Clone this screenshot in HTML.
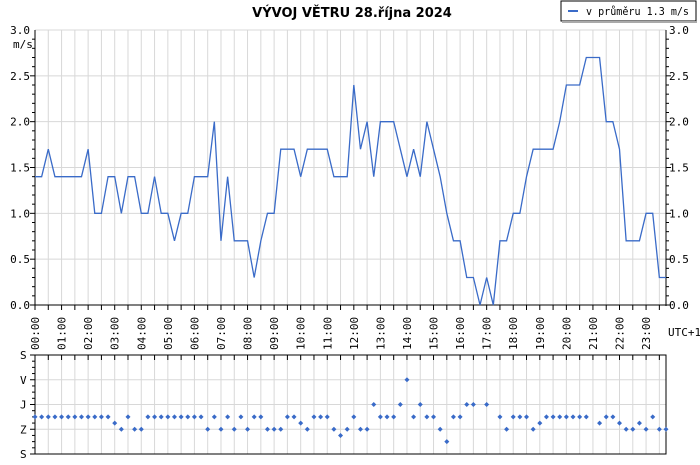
<!DOCTYPE html>
<html><head><meta charset="utf-8">
<style>
body{margin:0;background:#fff;width:700px;height:460px;overflow:hidden;font-family:"Liberation Mono",monospace;}
svg text{font-family:"DejaVu Sans Mono","Liberation Mono",monospace;font-size:11px;fill:#000;}
</style></head><body>
<svg id="c" width="700" height="460">
<text x="352" y="17" text-anchor="middle" style="font-family:'DejaVu Sans','Liberation Sans',sans-serif;font-weight:bold;font-size:13px">VÝVOJ VĚTRU  28.října 2024</text>
<g>
<rect x="561" y="1" width="135" height="20" fill="#fff" stroke="#000"/>
<rect x="562" y="21" width="135" height="2" fill="#aaa"/>
<line x1="568" y1="11" x2="578" y2="11" stroke="#3a6bc8" stroke-width="2"/>
<text x="586" y="15" textLength="103" lengthAdjust="spacingAndGlyphs">v průměru 1.3 m/s</text>
</g>
<g id="grid1"></g>
<text x="13" y="48">m/s</text>
<text x="668" y="336">UTC+1</text>
</svg>
<script>
const speeds=[1.4,1.4,1.7,1.4,1.4,1.4,1.4,1.4,1.7,1.0,1.0,1.4,1.4,1.0,1.4,1.4,1.0,1.0,1.4,1.0,1.0,0.7,1.0,1.0,1.4,1.4,1.4,2.0,0.7,1.4,0.7,0.7,0.7,0.3,0.7,1.0,1.0,1.7,1.7,1.7,1.4,1.7,1.7,1.7,1.7,1.4,1.4,1.4,2.4,1.7,2.0,1.4,2.0,2.0,2.0,1.7,1.4,1.7,1.4,2.0,1.7,1.4,1.0,0.7,0.7,0.3,0.3,0.0,0.3,0.0,0.7,0.7,1.0,1.0,1.4,1.7,1.7,1.7,1.7,2.0,2.4,2.4,2.4,2.7,2.7,2.7,2.0,2.0,1.7,0.7,0.7,0.7,1.0,1.0,0.3,0.3];
const dirs=[225,225,225,225,225,225,225,225,225,225,225,225,247.5,270,225,270,270,225,225,225,225,225,225,225,225,225,270,225,270,225,270,225,270,225,225,270,270,270,225,225,247.5,270,225,225,225,270,292.5,270,225,270,270,180,225,225,225,180,90,225,180,225,225,270,315,225,225,180,180,null,180,null,225,270,225,225,225,270,247.5,225,225,225,225,225,225,225,null,247.5,225,225,247.5,270,270,247.5,270,225,270,270];
const yTicks=[0,0.5,1,1.5,2,2.5,3];
const hourLabels=["00:00","01:00","02:00","03:00","04:00","05:00","06:00","07:00","08:00","09:00","10:00","11:00","12:00","13:00","14:00","15:00","16:00","17:00","18:00","19:00","20:00","21:00","22:00","23:00"];
const dirLabels=["S","V","J","Z","S"];
const dirVals=[0,90,180,270,360];
const NS="http://www.w3.org/2000/svg";
const svg=document.getElementById('c');
const X0=35,X1=666,HW=(X1-X0)/23.75;
const Y0=305,Y1=30,B0=355,B1=454;
const x=i=>X0+i*HW/4;
const xh=h=>X0+h*HW;
const y=v=>Y0-(v/3)*(Y0-Y1);
const yd=d=>B0+(d/360)*(B1-B0);
function mk(t,a,p){const e=document.createElementNS(NS,t);for(const k in a)e.setAttribute(k,a[k]);(p||svg).appendChild(e);return e;}
const g1=document.getElementById('grid1');
for(let h=0;h<=23.5;h+=0.5){const gx=xh(h);if(gx>X1)break;
 const l=mk('line',{x1:gx,y1:Y1,x2:gx,y2:Y0,stroke:'#d8d8d8'},g1);
 
 
 const l2=mk('line',{x1:gx,y1:B0,x2:gx,y2:B1,stroke:'#d8d8d8'},g1);
 
 
 mk('line',{x1:gx,y1:Y0,x2:gx,y2:Y0+5,stroke:'#000'});
 mk('line',{x1:gx,y1:B0,x2:gx,y2:B0+5,stroke:'#000'});
}
yTicks.forEach(v=>{
 const l=mk('line',{x1:X0,y1:y(v),x2:X1,y2:y(v),stroke:'#d8d8d8'},g1);
 
 
 const t=mk('text',{x:X0-5,y:y(v)+4,'text-anchor':'end'});t.textContent=v.toFixed(1);
 
 
 const t2=mk('text',{x:X1+3,y:y(v)+4});t2.textContent=v.toFixed(1);
 
 
});
for(let v=0;v<=3;v+=0.1){mk('line',{x1:X0-(Math.round(v*10)%5==0?5:3),y1:y(v),x2:X0,y2:y(v),stroke:'#000'});mk('line',{x1:X1,y1:y(v),x2:X1+(Math.round(v*10)%5==0?5:3),y2:y(v),stroke:'#000'});}
mk('line',{x1:X0,y1:Y1,x2:X0,y2:Y0+1,stroke:'#000'});
mk('line',{x1:X1,y1:Y1,x2:X1,y2:Y0+1,stroke:'#000'});
mk('line',{x1:X0,y1:Y0,x2:X1,y2:Y0,stroke:'#000'});
hourLabels.forEach((s,h)=>{const t=mk('text',{transform:`translate(${xh(h)+4},${Y0+45}) rotate(-90)`});t.textContent=s;
 
 });
const line=mk('polyline',{points:speeds.map((v,i)=>x(i)+','+y(v)).join(' '),fill:'none',stroke:'#3a6bc8','stroke-width':1.3});


dirVals.forEach((d,k)=>{
 if(k>0&&k<4){const l=mk('line',{x1:X0,y1:yd(d),x2:X1,y2:yd(d),stroke:'#d8d8d8'},g1);
 
 }
 const t=mk('text',{x:20,y:yd(d)+4});t.textContent=dirLabels[k];
 
 
});
for(let d=0;d<=360;d+=22.5)mk('line',{x1:X0-(d%90==0?5:3),y1:yd(d),x2:X0,y2:yd(d),stroke:'#000'});
const box=mk('rect',{x:X0,y:B0,width:X1-X0,height:B1-B0,fill:'none',stroke:'#000'});


dirs.forEach((d,i)=>{if(d==null)return;const cx=x(i),cy=yd(d);
 const p=mk('path',{d:`M${cx-2.5},${cy}L${cx},${cy-2.5}L${cx+2.5},${cy}L${cx},${cy+2.5}Z`,fill:'#3a6bc8'});
 
 });
</script>
</body></html>
